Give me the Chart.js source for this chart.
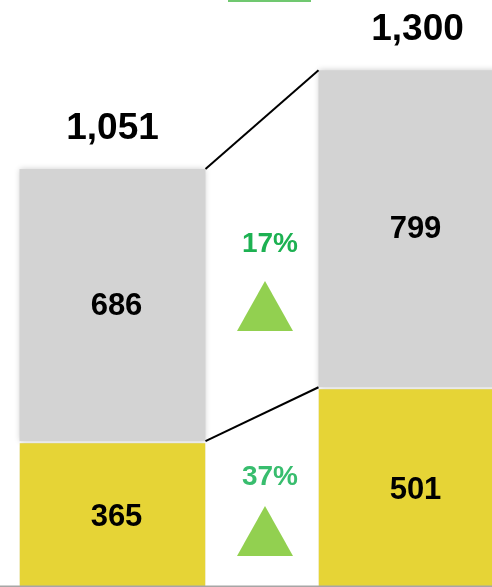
<!DOCTYPE html>
<html>
<head>
<meta charset="utf-8">
<script src="https://cdn.jsdelivr.net/npm/chart.js@4/dist/chart.umd.min.js"></script>
<style>
    html, body { margin: 0; padding: 0; background: #fff; overflow: hidden; }
    body { width: 492px; height: 587px; position: relative; }
    /* chart is wider than the window: the right bar is cut off like in the source */
    #wrap { position: absolute; left: -37px; top: 0; width: 598px; height: 587px; }
</style>
</head>
<body>
<div id="wrap"><canvas id="chart"></canvas></div>
<script>
// ========== Data ==========
const categories = ['Period 1', 'Period 2'];
const baseValues = [365, 501];     // yellow, bottom segment
const upperValues = [686, 799];    // gray, top segment
const growthLabels = ['17%', '37%']; // [gray growth, yellow growth]

const YELLOW = '#E6D436';
const GRAY = '#D3D3D3';
const GREEN_TRI = '#92D050';
const FONT = "'Liberation Sans', Arial, sans-serif";

const totals = baseValues.map((v, i) => v + upperValues[i]);

// Shadow around the bars
const barShadow = {
    id: 'barShadow',
    beforeDatasetsDraw(chart) {
        const ctx = chart.ctx;
        ctx.save();
        ctx.shadowColor = 'rgba(0,0,0,0.2)';
        ctx.shadowBlur = 6;
        ctx.shadowOffsetX = 0;
        ctx.shadowOffsetY = 0;
    },
    afterDatasetsDraw(chart) {
        chart.ctx.restore();
    }
};

// Labels, connector lines, growth markers
const annotations = {
    id: 'annotations',
    afterDatasetsDraw(chart) {
        const ctx = chart.ctx;
        const y = chart.scales.y;
        const baseMeta = chart.getDatasetMeta(0).data;
        const upperMeta = chart.getDatasetMeta(1).data;

        ctx.save();
        ctx.textAlign = 'center';
        ctx.textBaseline = 'middle';
        ctx.fillStyle = '#000';

        // segment values
        ctx.font = 'bold 31px ' + FONT;
        baseMeta.forEach((bar, i) => {
            ctx.fillText(String(baseValues[i]), bar.x + 4, (bar.y + bar.base) / 2 + 4);
        });
        upperMeta.forEach((bar, i) => {
            ctx.fillText(String(upperValues[i]), bar.x + 4, (bar.y + bar.base) / 2 + 1);
        });

        // totals above the bars
        ctx.font = 'bold 37px ' + FONT;
        const totalShift = [0, 6];
        upperMeta.forEach((bar, i) => {
            ctx.fillText(totals[i].toLocaleString('en-US'), bar.x + totalShift[i], bar.y - 40);
        });

        // connector lines
        ctx.strokeStyle = '#000';
        ctx.lineWidth = 2;
        [upperMeta, baseMeta].forEach(meta => {
            const a = meta[0], b = meta[1];
            ctx.beginPath();
            ctx.moveTo(a.x + a.width / 2, a.y);
            ctx.lineTo(b.x - b.width / 2, b.y);
            ctx.stroke();
        });

        // growth markers between the bars
        const midX = (baseMeta[0].x + baseMeta[1].x) / 2 + 3;
        const groups = [
            { mid: y.getPixelForValue(((baseValues[0] + totals[0]) / 2 + (baseValues[1] + totals[1]) / 2) / 2), label: growthLabels[0], color: '#1DB152', shift: 0 },
            { mid: y.getPixelForValue((baseValues[0] / 2 + baseValues[1] / 2) / 2), label: growthLabels[1], color: '#38BD6E', shift: -8 }
        ];
        groups.forEach(g => {
            ctx.font = 'bold 28px ' + FONT;
            ctx.fillStyle = g.color;
            ctx.fillText(g.label, midX + 5, g.mid - 23);
            ctx.fillStyle = GREEN_TRI;
            ctx.beginPath();
            ctx.moveTo(midX, g.mid + 14 + g.shift);
            ctx.lineTo(midX + 28, g.mid + 64 + g.shift);
            ctx.lineTo(midX - 28, g.mid + 64 + g.shift);
            ctx.closePath();
            ctx.fill();
        });

        // baseline
        ctx.strokeStyle = '#A6A6A6';
        ctx.lineWidth = 2;
        ctx.beginPath();
        ctx.moveTo(0, chart.chartArea.bottom + 0.5);
        ctx.lineTo(chart.width, chart.chartArea.bottom + 0.5);
        ctx.stroke();

        // green swatch cut off at the top edge
        ctx.fillStyle = '#70C870';
        ctx.fillRect(265, 0, 83, 2);

        ctx.restore();
    }
};

new Chart(document.getElementById('chart'), {
    type: 'bar',
    data: {
        labels: categories,
        datasets: [
            {
                data: baseValues,
                backgroundColor: YELLOW,
                borderColor: '#fff',
                borderWidth: { top: 2, left: 0, right: 0, bottom: 0 },
                borderSkipped: false,
                barPercentage: 0.622,
                categoryPercentage: 1
            },
            {
                data: upperValues,
                backgroundColor: GRAY,
                borderWidth: 0,
                barPercentage: 0.622,
                categoryPercentage: 1
            }
        ]
    },
    options: {
        responsive: true,
        maintainAspectRatio: false,
        animation: false,
        layout: { padding: { top: 0, bottom: 1, left: 0, right: 0 } },
        plugins: {
            legend: { display: false },
            tooltip: { enabled: false }
        },
        scales: {
            x: { stacked: true, display: false },
            y: { stacked: true, display: false, min: 0, max: 1477 }
        }
    },
    plugins: [barShadow, annotations]
});
</script>
</body>
</html>
